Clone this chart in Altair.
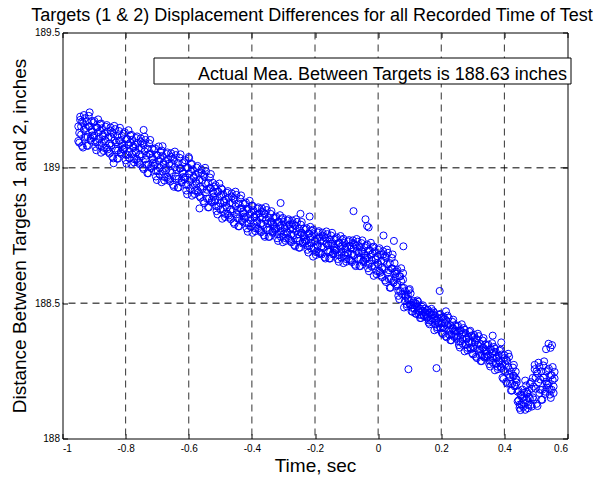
import altair as alt
import pandas as pd

# Time of each sample, in milliseconds
t_ms = [
    -950,-947,-944,-941,-938,-935,-932,-929, -926,-923,-920,-917,-914,-911,-908,-905,
    -902,-899,-896,-893,-890,-887,-884,-881, -878,-875,-872,-869,-866,-863,-860,-857,
    -854,-851,-848,-845,-842,-839,-836,-833, -830,-827,-824,-821,-818,-815,-812,-809,
    -806,-803,-800,-797,-794,-791,-788,-785, -782,-779,-776,-773,-770,-767,-764,-761,
    -758,-755,-752,-749,-746,-743,-740,-737, -734,-731,-728,-725,-722,-719,-716,-713,
    -710,-707,-704,-701,-698,-695,-692,-689, -686,-683,-680,-677,-674,-671,-668,-665,
    -662,-659,-656,-653,-650,-647,-644,-641, -638,-635,-632,-629,-626,-623,-620,-617,
    -614,-611,-608,-605,-602,-599,-596,-593, -590,-587,-584,-581,-578,-575,-572,-569,
    -566,-563,-560,-557,-554,-551,-548,-545, -542,-539,-536,-533,-530,-527,-524,-521,
    -518,-515,-512,-509,-506,-503,-500,-497, -494,-491,-488,-485,-482,-479,-476,-473,
    -470,-467,-464,-461,-458,-455,-452,-449, -446,-443,-440,-437,-434,-431,-428,-425,
    -422,-419,-416,-413,-410,-407,-404,-401, -398,-395,-392,-389,-386,-383,-380,-377,
    -374,-371,-368,-365,-362,-359,-356,-353, -350,-347,-344,-341,-338,-335,-332,-329,
    -326,-323,-320,-317,-314,-311,-308,-305, -302,-299,-296,-293,-290,-287,-284,-281,
    -278,-275,-272,-269,-266,-263,-260,-257, -254,-251,-248,-245,-242,-239,-236,-233,
    -230,-227,-224,-221,-218,-215,-212,-209, -206,-203,-200,-197,-194,-191,-188,-185,
    -182,-179,-176,-173,-170,-167,-164,-161, -158,-155,-152,-149,-146,-143,-140,-137,
    -134,-131,-128,-125,-122,-119,-116,-113, -110,-107,-104,-101,-98,-95,-92,-89,
    -86,-83,-80,-77,-74,-71,-68,-65, -62,-59,-56,-53,-50,-47,-44,-41,
    -38,-35,-32,-29,-26,-23,-20,-17, -14,-11,-8,-5,-2,1,4,7,
    10,13,16,19,22,25,28,31, 34,37,40,43,46,49,52,55,
    58,61,64,67,70,73,76,79, 82,85,88,91,94,97,100,103,
    106,109,112,115,118,121,124,127, 130,133,136,139,142,145,148,151,
    154,157,160,163,166,169,172,175, 178,181,184,187,190,193,196,199,
    202,205,208,211,214,217,220,223, 226,229,232,235,238,241,244,247,
    250,253,256,259,262,265,268,271, 274,277,280,283,286,289,292,295,
    298,301,304,307,310,313,316,319, 322,325,328,331,334,337,340,343,
    346,349,352,355,358,361,364,367, 370,373,376,379,382,385,388,391,
    394,397,400,403,406,409,412,415, 418,421,424,427,430,433,436,439,
    442,445,448,451,454,457,460,463, 466,469,472,475,478,481,484,487,
    490,493,496,499,502,505,508,511, 514,517,520,523,526,529,532,535,
    538,541,544,547,550,553,556,559,
]

# Distance readings (first pass), thousandths of an inch above 188 in
dist_a = [
    1153,1093,1189,1123,1171,1075,1141,1183, 1114,1172,1081,1153,1205,1101,1140,1120,
    1167,1119,1077,1149,1095,1179,1107,1137, 1056,1146,1116,1074,1128,1098,1158,1068,
    1113,1053,1149,1083,1131,1035,1101,1143, 1064,1118,1034,1100,1148,1052,1088,1070,
    1126,1074,1028,1106,1048,1139,1060,1093, 1014,1104,1074,1032,1086,1056,1116,1026,
    1073,1013,1109,1043,1091,995,1061,1103, 1012,1071,980,1051,1103,999,1038,1019,
    1066,1014,968,1046,988,1079,1001,1033, 947,1044,1012,966,1025,992,1057,960,
    1015,950,1054,982,1034,930,1002,1047, 959,1018,927,998,1050,946,985,966,
    1021,965,916,1000,937,1035,951,986, 897,994,962,916,975,942,1007,910,
    955,890,994,922,974,870,942,987, 886,945,854,925,977,873,912,893,
    930,882,840,912,858,942,870,900, 812,902,872,830,884,854,914,824,
    870,810,906,840,888,792,858,900, 814,868,784,850,898,802,838,820,
    866,818,776,848,794,878,806,836, 760,843,816,777,827,799,854,771,
    817,762,850,789,833,745,806,844, 770,815,745,800,840,760,790,775,
    815,775,740,800,755,825,765,790, 725,800,775,740,785,760,810,735,
    775,725,805,750,790,710,765,800, 730,775,705,760,800,720,750,735,
    772,732,697,757,712,782,722,747, 672,755,728,689,739,711,766,683,
    730,680,760,705,745,665,720,755, 690,735,665,720,760,680,710,695,
    738,698,663,723,678,748,688,713, 648,723,698,663,708,683,733,658,
    702,652,732,677,717,637,692,727, 662,707,637,692,732,652,682,667,
    712,668,629,695,646,723,657,684, 601,691,661,619,673,643,703,613,
    656,596,692,626,674,578,644,686, 589,648,557,628,680,576,615,596,
    617,569,527,599,545,629,557,587, 484,544,524,496,532,512,552,492,
    493,468,508,480,500,460,488,505, 457,480,445,472,492,452,467,460,
    473,449,428,464,437,479,443,458, 400,453,435,411,443,425,460,407,
    426,386,450,406,438,374,418,446, 383,419,363,407,439,375,399,387,
    413,377,345,399,358,422,368,390, 322,389,366,335,376,353,398,330,
    356,310,383,333,369,297,347,378, 308,349,286,335,371,299,326,313,
    343,307,275,329,288,352,298,320, 252,319,296,265,306,283,328,260,
    274,220,308,247,291,203,264,302, 202,247,177,232,272,192,222,207,
    173,141,113,161,125,181,133,153, 106,196,166,124,178,148,208,118,
    224,144,272,184,248,120,208,264, 180,248,143,225,285,165,210,188,
    252,204,162,234,180,264,192,222,
]

# Distance readings (second pass), thousandths of an inch above 188 in
dist_b = [
    1099,1129,1177,1153,1081,1165,1195,1111, 1147,1082,1114,1192,1153,1108,1173,1134,
    1113,1173,1095,1065,1149,1131,1083,1161, 1164,1092,1122,1062,1104,1152,1074,1134,
    1059,1089,1137,1113,1041,1125,1155,1071, 1094,1034,1064,1136,1100,1058,1118,1082,
    1067,1132,1048,1015,1106,1087,1035,1119, 1122,1050,1080,1020,1062,1110,1032,1092,
    1019,1049,1097,1073,1001,1085,1115,1031, 1045,980,1012,1090,1051,1006,1071,1032,
    1007,1072,988,955,1046,1027,975,1059, 1064,986,1018,953,999,1051,966,1031,
    956,989,1041,1015,937,1028,1060,969, 992,927,959,1037,998,953,1018,979,
    958,1028,937,902,1000,979,923,1014, 1014,936,968,903,949,1001,916,981,
    896,929,981,955,877,968,1000,909, 919,854,886,964,925,880,945,906,
    876,936,858,828,912,894,846,924, 920,848,878,818,860,908,830,890,
    816,846,894,870,798,882,912,828, 844,784,814,886,850,808,868,832,
    812,872,794,764,848,830,782,860, 860,793,821,766,805,849,777,832,
    767,795,839,817,751,828,855,778, 795,745,770,830,800,765,815,785,
    770,820,755,730,800,785,745,810, 815,755,780,730,765,805,740,790,
    730,755,795,775,715,785,810,740, 755,705,730,790,760,725,775,745,
    727,777,712,687,757,742,702,767, 772,705,733,678,717,761,689,744,
    685,710,750,730,670,740,765,695, 715,665,690,750,720,685,735,705,
    693,743,678,653,723,708,668,733, 738,678,703,653,688,728,663,713,
    657,682,722,702,642,712,737,667, 687,637,662,722,692,657,707,677,
    662,717,645,618,695,679,635,706, 709,637,667,607,649,697,619,679,
    602,632,680,656,584,668,698,614, 622,557,589,667,628,583,648,609,
    563,623,545,515,599,581,533,611, 556,508,528,488,516,548,496,536,
    470,482,502,492,462,497,510,475, 470,445,457,487,472,455,480,465,
    446,476,437,422,464,455,431,470, 464,422,439,404,428,457,411,446,
    390,410,442,426,378,434,454,398, 403,363,383,431,407,379,419,395,
    372,417,358,336,399,386,350,408, 402,348,371,326,358,394,335,380,
    315,338,374,356,302,364,387,324, 330,286,308,362,335,303,348,321,
    302,347,288,266,329,316,280,338, 332,278,301,256,288,324,265,310,
    225,253,297,275,209,286,313,236, 227,177,202,262,232,197,247,217,
    137,177,125,105,161,149,117,169, 214,142,172,112,154,202,124,184,
    152,192,256,224,128,240,280,168, 218,143,180,270,225,173,248,203,
    198,258,180,150,234,216,168,246,
]

# Isolated readings away from the main band
outlier_t = [-838, -743, -683, -600, -566, -309, -246, -217, -78, -40, -35, -30,
             17, 50, 80, 96, 185, 195, 215, 363, 390, 532, 540, 546, 551]
outlier_d = [1017, 1140, 1080, 1040, 850, 870, 830, 820, 840, 810, 785, 780,
             750, 730, 710, 256, 260, 545, 470, 380, 355, 330, 350, 335, 345]

x_ticks = [-1, -0.8, -0.6, -0.4, -0.2, 0, 0.2, 0.4, 0.6]
y_ticks = [188, 188.5, 189, 189.5]
x_grid = [-0.8, -0.6, -0.4, -0.2, 0, 0.2, 0.4]
y_grid = [188.5, 189]

title_text = "Targets (1 & 2) Displacement Differences for all Recorded Time of Test"
note_text = "Actual Mea. Between Targets is 188.63 inches"

times = [t / 1000 for t in t_ms] * 2 + [t / 1000 for t in outlier_t]
dists = ([188 + v / 1000 for v in dist_a] + [188 + v / 1000 for v in dist_b]
         + [188 + v / 1000 for v in outlier_d])
df = pd.DataFrame({"t": times, "d": dists})

FONT = "Liberation Sans"
xscale = alt.Scale(domain=[-1, 0.6], nice=False, zero=False)
yscale = alt.Scale(domain=[188, 189.5], nice=False, zero=False)

x_label_expr = "datum.value == 0 ? '0' : (datum.value < 0 ? '-' : '') + format(abs(datum.value), '~g')"
y_label_expr = "format(datum.value, '~g')"

grid_v = alt.Chart(pd.DataFrame({"gx": x_grid})).mark_rule(
    color="#333333", strokeDash=[7, 5], strokeWidth=1
).encode(
    x=alt.X("gx:Q", scale=xscale,
            axis=alt.Axis(orient="top", offset=-5, tickSize=5, labels=False, title=None,
                          values=x_ticks, domain=False, grid=False, tickColor="black"))
)

grid_h = alt.Chart(pd.DataFrame({"gy": y_grid})).mark_rule(
    color="black", strokeDash=[7, 5], strokeWidth=1
).encode(
    y=alt.Y("gy:Q", scale=yscale,
            axis=alt.Axis(orient="right", offset=-5, tickSize=5, labels=False, title=None,
                          values=y_ticks, domain=False, grid=False, tickColor="black"))
)

one = pd.DataFrame({"k": [0]})
box = alt.Chart(one).mark_rect(fill="white", stroke="black", strokeWidth=1).encode(
    x=alt.value(91.5), x2=alt.value(508.5), y=alt.value(25.5), y2=alt.value(51.5)
)
note = alt.Chart(one).mark_text(
    align="left", baseline="alphabetic", fontSize=18, font=FONT, color="black"
).encode(x=alt.value(135.5), y=alt.value(47.5), text=alt.value(note_text))

pts = alt.Chart(df).mark_point(
    shape="circle", filled=False, color="#0000ff", size=50, strokeWidth=1, opacity=1
).encode(
    x=alt.X("t:Q", scale=xscale,
            axis=alt.Axis(orient="bottom", offset=-5, tickSize=5, values=x_ticks,
                          labelExpr=x_label_expr, title="Time, sec", titlePadding=3,
                          labelPadding=5, domain=False, grid=False, tickColor="black")),
    y=alt.Y("d:Q", scale=yscale,
            axis=alt.Axis(orient="left", offset=-5, tickSize=5, values=y_ticks,
                          labelExpr=y_label_expr,
                          title="Distance Between Targets 1 and 2, inches",
                          titlePadding=5, labelPadding=3, domain=False, grid=False,
                          tickColor="black")),
)

chart = alt.layer(grid_v, grid_h, box, note, pts).resolve_scale(
    x="independent", y="independent"
).properties(
    width=505, height=406,
    title=alt.TitleParams(title_text, fontSize=18, font=FONT, fontWeight="normal",
                          color="black", anchor="middle", offset=3, dx=-3),
    padding={"left": 62.5, "top": 32.5, "right": 33.5, "bottom": 38.5},
    autosize=alt.AutoSizeParams(type="none"),
).configure_view(stroke="black", strokeWidth=1).configure_axis(
    labelFont=FONT, labelFontSize=10, labelColor="black",
    titleFont=FONT, titleFontSize=19, titleFontWeight="normal", titleColor="black",
)

chart.save("out.html", embed_options={"renderer": "svg", "actions": False})
